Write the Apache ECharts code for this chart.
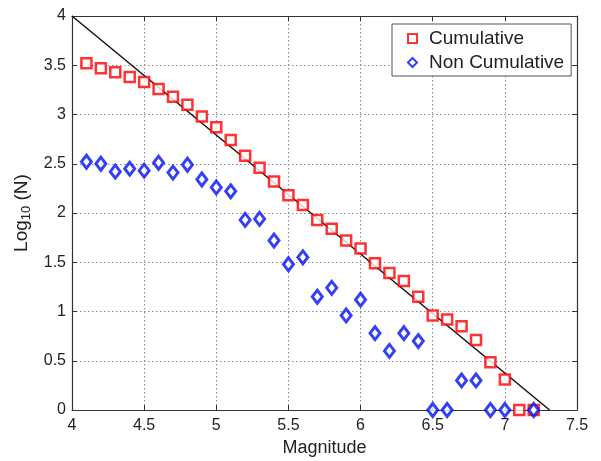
<!DOCTYPE html>
<html>
<head>
<meta charset="utf-8">
<script src="https://cdn.jsdelivr.net/npm/echarts@6/dist/echarts.min.js"></script>
<style>
  html, body { margin: 0; padding: 0; background: #fff; }
  #chart { width: 601px; height: 461px; }
</style>
</head>
<body>
<div id="chart"></div>
<script>
// magnitudes 4.1 .. 7.2
const magnitudes = [4.1, 4.2, 4.3, 4.4, 4.5, 4.6, 4.7, 4.8, 4.9, 5.0, 5.1, 5.2, 5.3, 5.4, 5.5, 5.6,
  5.7, 5.8, 5.9, 6.0, 6.1, 6.2, 6.3, 6.4, 6.5, 6.6, 6.7, 6.8, 6.9, 7.0, 7.1, 7.2]
const cumulative = [3.52, 3.47, 3.43, 3.38, 3.33, 3.26, 3.18, 3.10, 2.98, 2.87, 2.74, 2.58, 2.46, 2.32, 2.18, 2.08,
  1.93, 1.84, 1.72, 1.64, 1.49, 1.39, 1.31, 1.15, 0.96, 0.92, 0.85, 0.71, 0.485, 0.31, 0, 0]
const nonCumulative = [2.52, 2.50, 2.42, 2.45, 2.43, 2.51, 2.41, 2.49, 2.34, 2.26, 2.22, 1.93, 1.94, 1.72, 1.48, 1.55,
  1.15, 1.24, 0.96, 1.12, 0.78, 0.60, 0.78, 0.70, 0, 0, 0.30, 0.30, 0, 0, null, 0]
// fitted line end points
const fitX = [4, 7.31]
const fitY = [4, 0]

const xTicks = { min: 4, max: 7.5, interval: 0.5 }
const yTicks = { min: 0, max: 4, interval: 0.5 }

const chart = echarts.init(document.getElementById('chart'))

const font = 'Liberation Sans, Arial, sans-serif'
const gridLine = { show: true, lineStyle: { color: '#888', type: [1.5, 2.5], width: 1 } }
const frame = { show: true, onZero: false, lineStyle: { color: '#333', width: 1.2 } }
const tick = { show: true, inside: true, length: 5, lineStyle: { color: '#333' } }

chart.setOption({
  backgroundColor: '#fff',
  animation: false,
  grid: { left: 72, right: 24, top: 16, bottom: 51, outerBoundsMode: 'none' },
  legend: {
    data: ['Cumulative', 'Non Cumulative'],
    orient: 'vertical',
    left: 392,
    top: 24,
    padding: [5, 7, 4, 15],
    itemGap: 5,
    itemWidth: 9,
    itemHeight: 9,
    backgroundColor: '#fff',
    borderColor: '#555',
    borderWidth: 1,
    textStyle: { fontFamily: font, fontSize: 19, color: '#222', padding: [0, 0, 0, 7] }
  },
  xAxis: [{
    type: 'value', ...xTicks,
    name: 'Magnitude', nameLocation: 'middle', nameGap: 25,
    nameTextStyle: { fontFamily: font, fontSize: 18, color: '#222' },
    axisLine: frame, axisTick: tick, splitLine: gridLine,
    axisLabel: { fontFamily: font, fontSize: 16, color: '#222', margin: 8 }
  }, {
    type: 'value', ...xTicks, position: 'top',
    axisLine: frame, axisTick: tick, splitLine: { show: false }, axisLabel: { show: false }
  }],
  yAxis: [{
    type: 'value', ...yTicks,
    name: 'Log{sub|10} (N)', nameLocation: 'middle', nameGap: 28, nameRotate: 90,
    nameTextStyle: {
      fontFamily: font, fontSize: 19, color: '#222',
      rich: { sub: { fontFamily: font, fontSize: 13, color: '#222', verticalAlign: 'bottom', padding: [9, 0, 0, 0] } }
    },
    axisLine: frame, axisTick: tick, splitLine: gridLine,
    axisLabel: { fontFamily: font, fontSize: 16, color: '#222', margin: 6 }
  }, {
    type: 'value', ...yTicks, position: 'right',
    axisLine: frame, axisTick: tick, splitLine: { show: false }, axisLabel: { show: false }
  }],
  series: [
    {
      name: 'fit',
      type: 'line',
      data: fitX.map((x, i) => [x, fitY[i]]),
      symbol: 'none',
      lineStyle: { color: '#111', width: 1.5 },
      z: 3
    },
    {
      name: 'Cumulative',
      type: 'scatter',
      data: magnitudes.map((m, i) => [m, cumulative[i]]),
      symbol: 'rect',
      symbolSize: 10,
      itemStyle: { color: '#fff', borderColor: '#f00', borderWidth: 2.5 },
      z: 4
    },
    {
      name: 'Non Cumulative',
      type: 'scatter',
      data: magnitudes.map((m, i) => [m, nonCumulative[i]]).filter(d => d[1] !== null),
      symbol: 'diamond',
      symbolSize: [10, 13],
      itemStyle: { color: '#fff', borderColor: '#0010f0', borderWidth: 3 },
      z: 5
    }
  ]
})
</script>
</body>
</html>
